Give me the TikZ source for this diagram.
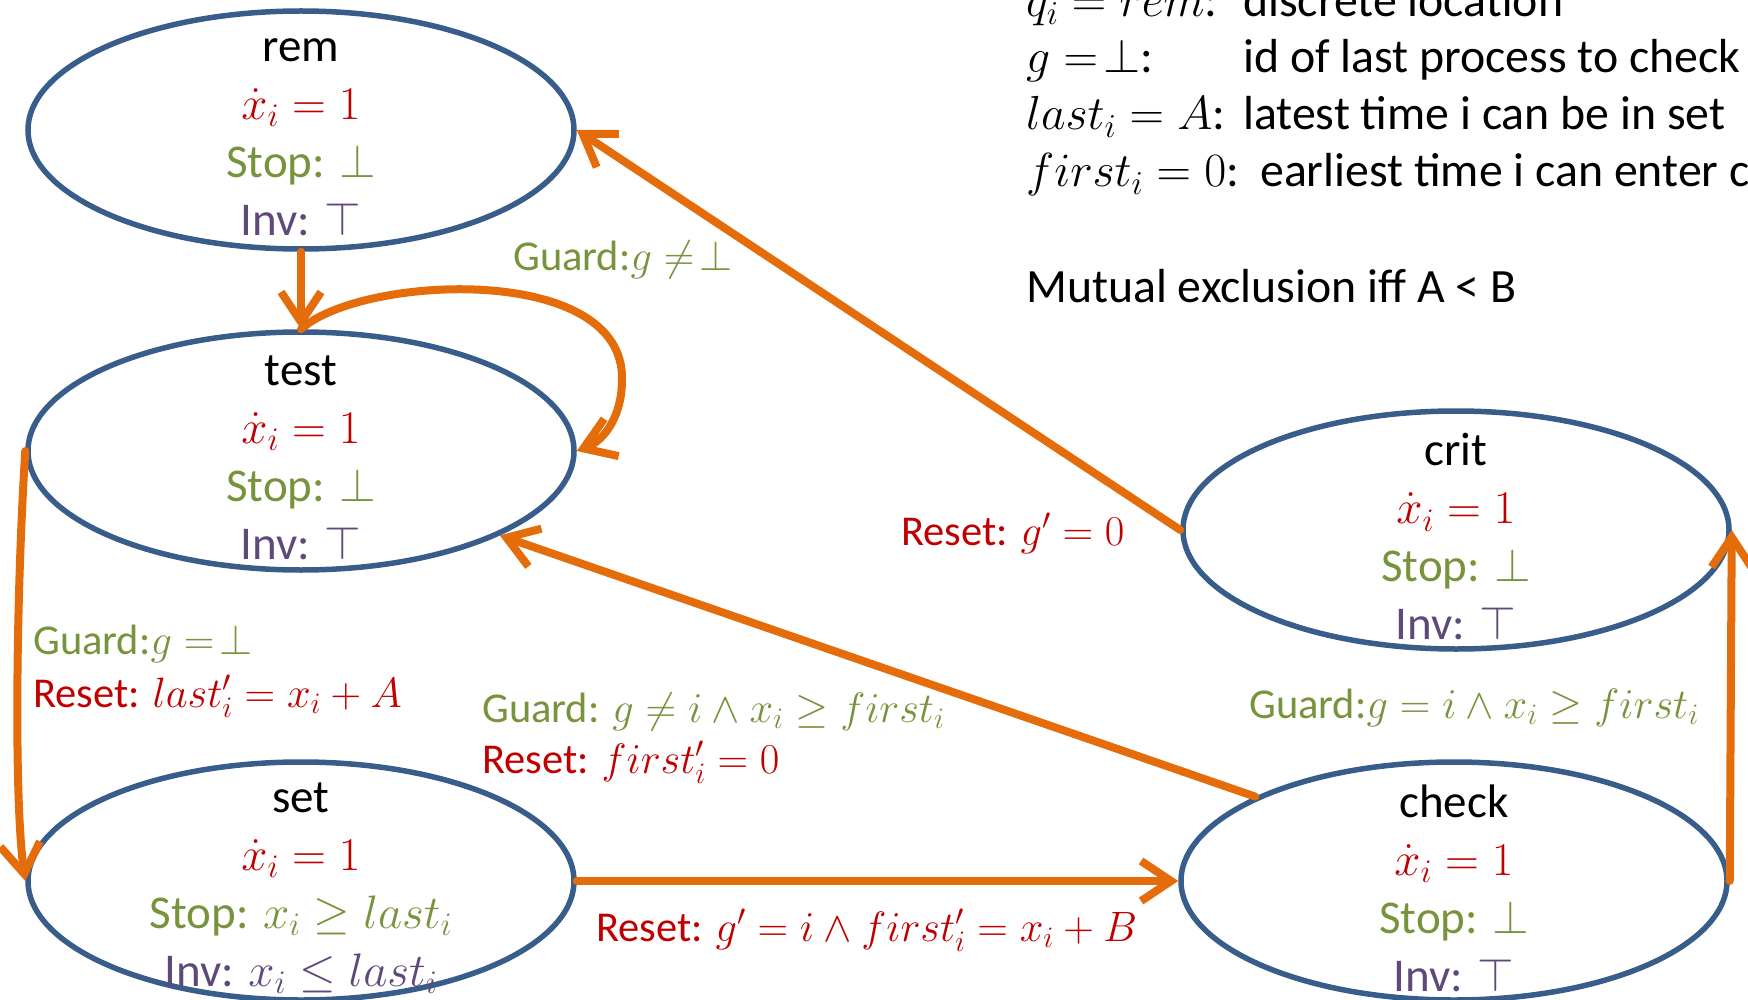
\RequirePackage{fix-cm}
\documentclass[tikz,border=0pt]{standalone}
\usepackage{fontspec}
\setmainfont{Carlito}
\usetikzlibrary{arrows.meta,shapes.geometric}
\definecolor{nodeblue}{HTML}{385D8A}
\definecolor{arrorange}{HTML}{E46C0A}
\definecolor{txtred}{HTML}{C00000}
\definecolor{txtgreen}{HTML}{77933C}
\definecolor{txtpurple}{HTML}{5F497A}
\newcommand{\stateinfo}[3]{#1\\{\color{txtred}$\dot{x}_i = 1$}\\{\color{txtgreen}Stop: #2}\\{\color{txtpurple}Inv: #3}}
\begin{document}
\begin{tikzpicture}[x=1pt,y=-1pt,
  statebox/.style={ellipse, draw=nodeblue, line width=5.5pt, minimum width=546pt, minimum height=238pt, inner sep=0pt},
  statetext/.style={align=center, font=\fontsize{47}{58}\selectfont, inner sep=0pt},
  trans/.style={draw=arrorange, line width=8pt, line cap=round, line join=round, -{Straight Barb[length=30pt,width=40pt]}},
  lbl/.style={anchor=base west, inner sep=0pt, font=\fontsize{42.5}{50}\selectfont},
  info/.style={anchor=base west, inner sep=0pt, font=\fontsize{47.8}{57}\selectfont},
]
\useasboundingbox (0,0) rectangle (1748,1000);
\clip (0,0) rectangle (1748,1000);

% states
\node[statebox] (rem) at (301,130) {};
\node[statebox] (test) at (301,451) {};
\node[statebox] (set) at (301,881) {};
\node[statebox] (crit) at (1456,530) {};
\node[statebox] (check) at (1454,881) {};

% transitions
\draw[trans] (rem.south) -- (test.north);
\draw[trans] (test.north) .. controls (360,275) and (625,262) .. (622,380) .. controls (622,415) and (605,440) .. (test.east);
\draw[trans] (crit.west) -- (rem.east);
\draw[trans] (check.157) -- (test.-23);
\draw[trans] (test.west) .. controls (16,600) and (14,800) .. (set.west);
\draw[trans] (set.east) -- (check.west);
\draw[trans] (check.east) -- (crit.east);

% state texts
\node[statetext] (remtxt) at (301,137) {\stateinfo{rem}{$\bot$}{$\top$}};
\node[statetext] (testtxt) at (301,458) {\stateinfo{test}{$\bot$}{$\top$}};
\node[statetext] (settxt) at (301,888) {\stateinfo{set}{$x_i \geq last_i$}{$x_i \leq last_i$}};
\node[statetext] (crittxt) at (1456,537) {\stateinfo{crit}{$\bot$}{$\top$}};
\node[statetext] (checktxt) at (1454,888) {\stateinfo{check}{$\bot$}{$\top$}};

% transition labels
\node[lbl, text=txtgreen] (loopg) at (513,271) {Guard:$g \neq\!\bot$};
\node[lbl, text=txtred] (critr) at (901,545) {Reset: $g' = 0$};
\node[lbl, text=txtgreen] (tsg) at (33,654) {Guard:$g =\!\bot$};
\node[lbl, text=txtred] (tsr) at (33,707) {Reset: $last'_i = x_i + A$};
\node[lbl, text=txtgreen] (ctg) at (482,722) {Guard: $g \neq i \wedge x_i \geq first_i$};
\node[lbl, text=txtred] (ctr) at (482,773) {Reset: $first'_i = 0$};
\node[lbl, text=txtgreen] (ccg) at (1249,718) {Guard:$g = i \wedge x_i \geq first_i$};
\node[lbl, text=txtred] (scr) at (596,941) {Reset: $g' = i \wedge first'_i = x_i + B$};

% legend
\node[info] (i1m) at (1026,17) {$q_i = rem$:};
\node[info] (i1t) at (1243,17) {discrete location};
\node[info] (i2m) at (1026,73) {$g =\!\bot$:};
\node[info] (i2t) at (1243,73) {id of last process to check};
\node[info] (i3m) at (1026,130) {$last_i = A$:};
\node[info] (i3t) at (1243,130) {latest time i can be in set};
\node[info] (i4m) at (1026,187) {$first_i = 0$:};
\node[info] (i4t) at (1260,187) {earliest time i can enter crit};
\node[info] (i5) at (1026,303) {Mutual exclusion iff A < B};
\end{tikzpicture}
\end{document}
